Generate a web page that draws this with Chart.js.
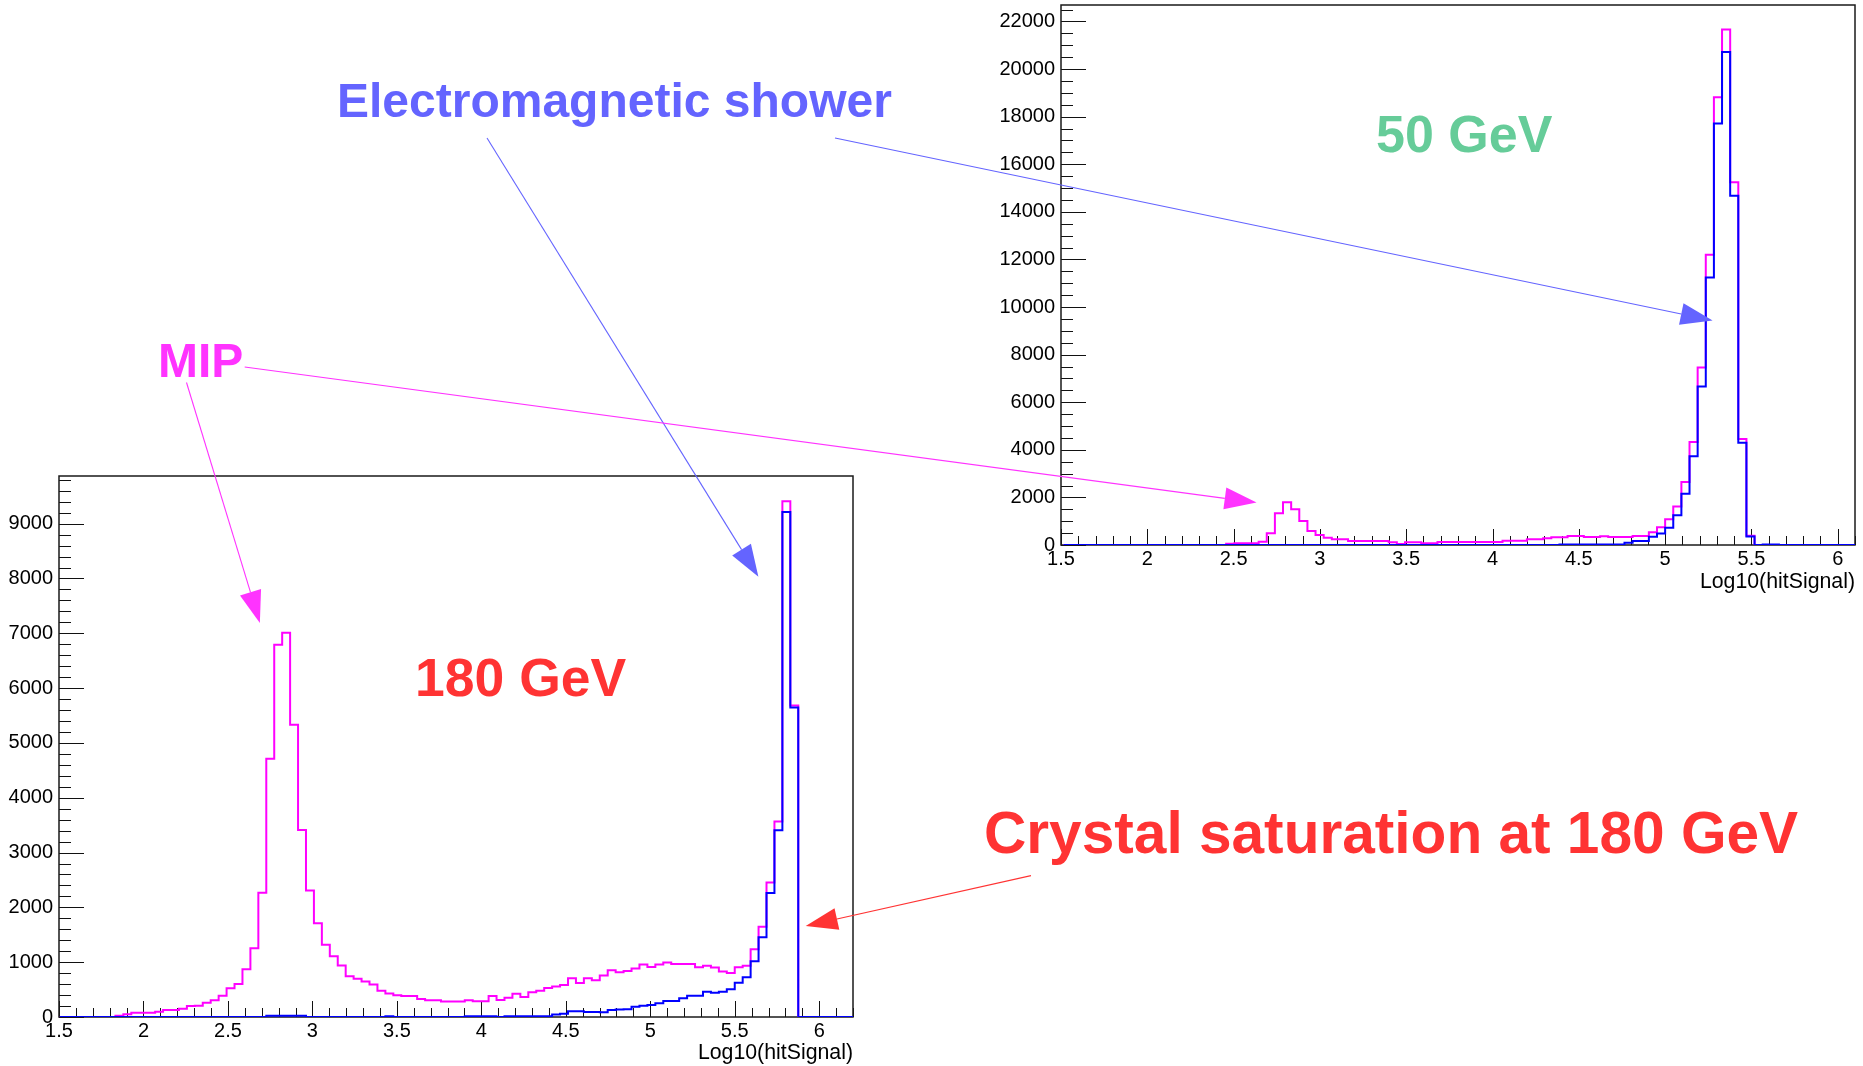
<!DOCTYPE html>
<html>
<head>
<meta charset="utf-8">
<title>Log10(hitSignal) — 180 GeV and 50 GeV</title>
<script src="https://cdn.jsdelivr.net/npm/chart.js@4.4.1/dist/chart.umd.min.js"></script>
<style>
  html, body { margin: 0; padding: 0; background: #ffffff; }
  #stage { position: relative; width: 1863px; height: 1066px; overflow: hidden; background: #ffffff; }
  #stage canvas { position: absolute; left: 0; top: 0; }
</style>
</head>
<body>
<div id="stage">
  <canvas id="hist180" width="1863" height="1066"></canvas>
  <canvas id="hist50" width="1863" height="1066"></canvas>
</div>
<script>
// ---------------------------------------------------------------------------
// Histogram contents: counts per bin of log10(hit signal)
// ---------------------------------------------------------------------------
const AXIS_TITLE = 'Log10(hitSignal)';
const xTickValues = [1.5, 2, 2.5, 3, 3.5, 4, 4.5, 5, 5.5, 6];
const yTicks180 = [0, 1000, 2000, 3000, 4000, 5000, 6000, 7000, 8000, 9000];
const yTicks50 = [0, 2000, 4000, 6000, 8000, 10000, 12000, 14000, 16000, 18000, 20000, 22000];

// 180 GeV run
const binStart180 = 1.505;
const binWidth180 = 0.047;
const allHits180 = [
  0, 0, 0, 0, 0, 0, 0, 24, 49, 79,
  79, 79, 97, 128, 128, 152, 200, 205, 261, 304,
  389, 523, 602, 870, 1253, 2268, 4710, 6790, 7010, 5330,
  3410, 2310, 1710, 1320, 1110, 940, 745, 700, 648, 593,
  480, 430, 395, 382, 382, 330, 305, 305, 283, 283,
  283, 305, 288, 288, 385, 310, 352, 425, 363, 450,
  477, 527, 556, 585, 705, 620, 705, 670, 757, 855,
  815, 840, 886, 958, 912, 960, 995, 968, 968, 965,
  908, 933, 905, 830, 804, 908, 937, 1235, 1645, 2455,
  3565, 9410, 5685, 0, 0, 0, 0, 0, 0, 0
];
const showerHits180 = [
  0, 0, 0, 0, 0, 0, 0, 0, 0, 0,
  0, 0, 0, 0, 0, 0, 0, 0, 0, 0,
  0, 0, 0, 0, 0, 0, 25, 25, 25, 25,
  25, 0, 0, 0, 0, 0, 0, 0, 0, 0,
  0, 15, 0, 0, 0, 0, 0, 0, 0, 0,
  0, 15, 15, 15, 15, 0, 15, 15, 15, 15,
  15, 15, 45, 60, 105, 105, 90, 90, 85, 128,
  135, 140, 188, 207, 219, 250, 292, 292, 341, 389,
  389, 462, 444, 462, 505, 626, 724, 1015, 1455, 2263,
  3405, 9215, 5648, 0, 0, 0, 0, 0, 0, 0
];

// 50 GeV run
const binStart50 = 1.5146;
const binWidth50 = 0.0471;
const allHits50 = [
  0, 0, 0, 0, 0, 0, 0, 0, 0, 0,
  0, 0, 0, 0, 0, 0, 0, 0, 0, 0,
  50, 70, 70, 70, 140, 491, 1333, 1796, 1501, 1010,
  589, 421, 309, 238, 238, 168, 168, 168, 168, 168,
  120, 45, 112, 112, 70, 70, 126, 126, 126, 126,
  126, 126, 126, 126, 183, 183, 183, 238, 238, 281,
  323, 323, 379, 379, 337, 337, 365, 337, 337, 337,
  379, 379, 533, 743, 1080, 1620, 2650, 4332, 7456, 12192,
  18810, 21665, 15245, 4450, 392, 0, 0, 0, 0, 0,
  0, 0, 0, 0, 0, 0, 0, 0
];
const showerHits50 = [
  0, 0, 0, 0, 0, 0, 0, 0, 0, 0,
  0, 0, 0, 0, 0, 0, 0, 0, 0, 0,
  0, 0, 0, 0, 0, 0, 0, 0, 0, 0,
  0, 0, 0, 0, 0, 0, 0, 0, 0, 0,
  0, 0, 0, 0, 0, 0, 0, 0, 0, 0,
  0, 0, 0, 0, 0, 0, 0, 0, 0, 0,
  0, 25, 25, 25, 25, 25, 25, 25, 25, 98,
  168, 168, 350, 480, 725, 1250, 2150, 3730, 6660, 11245,
  17711, 20718, 14676, 4298, 362, 0, 20, 20, 0, 0,
  0, 0, 0, 0, 0, 0, 0, 0
];

// ---------------------------------------------------------------------------
// Drawing helpers
// ---------------------------------------------------------------------------
const FONT = '"Liberation Sans", Arial, Helvetica, sans-serif';
const LINE_ALL = '#ff00ff';
const LINE_SHOWER = '#0000ff';

// left bin edges with the bin content, closed by the right edge of the last bin
function stepPoints(start, width, values) {
  const pts = values.map((v, i) => ({ x: start + i * width, y: v }));
  pts.push({ x: start + values.length * width, y: values[values.length - 1] });
  return pts;
}

// frame and inward tick marks in the style of a ROOT pad
const rootFrame = {
  id: 'rootFrame',
  beforeDatasetsDraw(chart, args, opts) {
    const { ctx, chartArea: a, scales: { x, y } } = chart;
    ctx.save();
    ctx.strokeStyle = '#111';
    ctx.lineWidth = 1;
    ctx.beginPath();
    for (let k = Math.ceil(x.min * 10 - 1e-6); k <= Math.floor(x.max * 10 + 1e-6); k++) {
      const px = Math.round(x.getPixelForValue(k / 10)) + 0.5;
      const len = (k % 5 === 0) ? opts.xMajor : opts.xMinor;
      ctx.moveTo(px, a.bottom);
      ctx.lineTo(px, a.bottom - len);
    }
    for (let v = 0; v <= y.max + 1e-6; v += opts.yMinorStep) {
      const py = Math.round(y.getPixelForValue(v)) + 0.5;
      const major = Math.abs(v / opts.yMajorStep - Math.round(v / opts.yMajorStep)) < 1e-6;
      ctx.moveTo(a.left, py);
      ctx.lineTo(a.left + (major ? opts.yMajor : opts.yMinor), py);
    }
    ctx.stroke();
    ctx.lineWidth = 1.5;
    ctx.strokeStyle = '#1a1a1a';
    ctx.strokeRect(a.left, a.top, a.right - a.left, a.bottom - a.top);
    ctx.restore();
  }
};

function histChart(id, cfg, extraPlugins) {
  return new Chart(document.getElementById(id), {
    type: 'line',
    data: {
      datasets: [
        { data: stepPoints(cfg.start, cfg.width, cfg.shower), borderColor: LINE_SHOWER, borderWidth: 2,
          stepped: true, pointRadius: 0, fill: false },
        { data: stepPoints(cfg.start, cfg.width, cfg.all), borderColor: LINE_ALL, borderWidth: 2,
          stepped: true, pointRadius: 0, fill: false }
      ]
    },
    options: {
      responsive: false,
      animation: false,
      events: [],
      layout: { padding: cfg.padding },
      plugins: {
        legend: { display: false },
        tooltip: { enabled: false },
        rootFrame: cfg.frame
      },
      scales: {
        x: {
          type: 'linear', min: 1.5, max: cfg.xMax,
          grid: { display: false, drawTicks: false, tickLength: 0 },
          border: { display: false },
          afterBuildTicks: (s) => { s.ticks = xTickValues.map((v) => ({ value: v })); },
          afterFit: (s) => { s.height = cfg.xAxisHeight; s.paddingLeft = 0; s.paddingRight = 0; },
          ticks: {
            autoSkip: false, maxRotation: 0, minRotation: 0,
            padding: 2, color: '#000', font: { family: FONT, size: 20 },
            callback: (v) => String(v)
          },
          title: {
            display: true, text: AXIS_TITLE, align: 'end', color: '#000',
            font: { family: FONT, size: 21.3 }, padding: { top: 0, bottom: cfg.titlePad }
          }
        },
        y: {
          type: 'linear', min: 0, max: cfg.yMax,
          grid: { display: false, drawTicks: false, tickLength: 0 },
          border: { display: false },
          afterBuildTicks: (s) => { s.ticks = cfg.yTicks.map((v) => ({ value: v })); },
          afterFit: (s) => { s.width = cfg.yAxisWidth; s.paddingTop = 0; s.paddingBottom = 0; },
          ticks: {
            autoSkip: false,
            padding: 6, color: '#000', font: { family: FONT, size: 20 },
            callback: (v) => String(v)
          }
        }
      }
    },
    plugins: [rootFrame].concat(extraPlugins || [])
  });
}

// ---------------------------------------------------------------------------
// 180 GeV pad (lower left)
// ---------------------------------------------------------------------------
const chart180 = histChart('hist180', {
  start: binStart180, width: binWidth180, all: allHits180, shower: showerHits180,
  xMax: 6.2, yMax: 9870, yTicks: yTicks180,
  padding: { left: 0, right: 1010, top: 476, bottom: 0 },
  yAxisWidth: 59, xAxisHeight: 49, titlePad: 0,
  frame: { xMajor: 16, xMinor: 9, yMajor: 25, yMinor: 12, yMajorStep: 1000, yMinorStep: 200 }
});

// ---------------------------------------------------------------------------
// Labels and arrows drawn over both pads
// ---------------------------------------------------------------------------
const EM_COLOR = '#6464ff';
const MIP_COLOR = '#ff33ff';
const RED = '#ff3333';
const GREEN = '#66cc99';

function drawArrow(ctx, x0, y0, x1, y1, color) {
  const L = 32, W = 11;
  const dx = x1 - x0, dy = y1 - y0, d = Math.hypot(dx, dy);
  const ux = dx / d, uy = dy / d;
  const bx = x1 - ux * L, by = y1 - uy * L;
  ctx.strokeStyle = color;
  ctx.lineWidth = 1.1;
  ctx.beginPath();
  ctx.moveTo(x0, y0);
  ctx.lineTo(bx, by);
  ctx.stroke();
  ctx.fillStyle = color;
  ctx.beginPath();
  ctx.moveTo(x1, y1);
  ctx.lineTo(bx - uy * W, by + ux * W);
  ctx.lineTo(bx + uy * W, by - ux * W);
  ctx.closePath();
  ctx.fill();
}

function at(chart, x, y) {
  return [chart.scales.x.getPixelForValue(x), chart.scales.y.getPixelForValue(y)];
}

const annotations = {
  id: 'annotations',
  afterDraw(chart) {
    const ctx = chart.ctx;
    ctx.save();
    // arrows, each pointing at a feature of one of the histograms
    let p;
    p = at(chart180, 5.64, 8030);  drawArrow(ctx, 487, 138, p[0], p[1], EM_COLOR);
    p = at(chart, 5.275, 9430);    drawArrow(ctx, 835, 138, p[0], p[1], EM_COLOR);
    p = at(chart180, 2.689, 7190); drawArrow(ctx, 186.5, 382.5, p[0], p[1], MIP_COLOR);
    p = at(chart, 2.633, 1781);    drawArrow(ctx, 244.7, 367, p[0], p[1], MIP_COLOR);
    p = at(chart180, 5.92, 1660);  drawArrow(ctx, 1031, 875.6, p[0], p[1], RED);

    ctx.textAlign = 'left';
    ctx.textBaseline = 'middle';
    const label = (text, x, y, size, color) => {
      ctx.font = 'bold ' + size + 'px ' + FONT;
      ctx.fillStyle = color;
      ctx.fillText(text, x, y);
    };
    label('Electromagnetic shower', 337, 104, 48, EM_COLOR);
    label('50 GeV', 1376, 138, 52, GREEN);
    label('MIP', 158, 364, 48, MIP_COLOR);
    label('180 GeV', 415, 681, 53.5, RED);
    label('Crystal saturation at 180 GeV', 984, 837, 58.6, RED);
    ctx.restore();
  }
};

// ---------------------------------------------------------------------------
// 50 GeV pad (upper right), drawn on top together with the annotations
// ---------------------------------------------------------------------------
const chart50 = histChart('hist50', {
  start: binStart50, width: binWidth50, all: allHits50, shower: showerHits50,
  xMax: 6.1, yMax: 22690, yTicks: yTicks50,
  padding: { left: 991, right: 8, top: 5, bottom: 466 },
  yAxisWidth: 70, xAxisHeight: 55, titlePad: 5,
  frame: { xMajor: 16, xMinor: 9, yMajor: 25, yMinor: 12, yMajorStep: 2000, yMinorStep: 500 }
}, [annotations]);
</script>
</body>
</html>
